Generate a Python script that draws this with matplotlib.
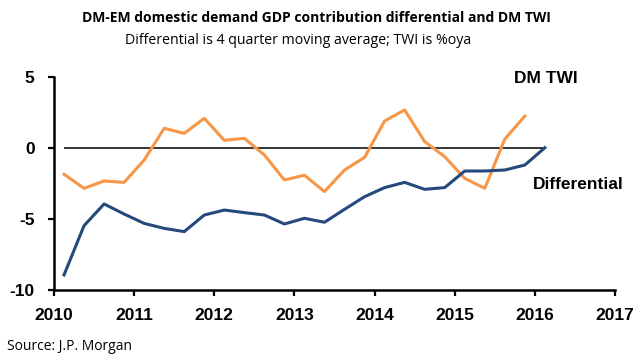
"""
DM-EM domestic demand GDP contribution differential vs DM TWI
"""

import numpy as np
import matplotlib
matplotlib.use("Agg")
import matplotlib.pyplot as plt

plt.rcParams["axes.unicode_minus"] = False

# 0. Data (quarterly)
START = 2010.125
STEP = 0.25

differential = [-8.94, -5.47, -3.94, -4.65, -5.31, -5.66, -5.89, -4.72, -4.37,
                -4.55, -4.72, -5.35, -4.95, -5.23, -4.32, -3.43, -2.79, -2.42,
                -2.91, -2.79, -1.62, -1.62, -1.55, -1.20, 0.02]
dm_twi = [-1.85, -2.84, -2.32, -2.42, -0.85, 1.39, 1.03, 2.09, 0.54, 0.68,
          -0.49, -2.25, -1.92, -3.07, -1.55, -0.66, 1.90, 2.68, 0.45, -0.61,
          -2.14, -2.84, 0.63, 2.25]

x_diff = START + STEP * np.arange(len(differential))
x_twi = START + STEP * np.arange(len(dm_twi))

years = list(range(2010, 2018))
y_ticks = [5, 0, -5, -10]

ORANGE = "#F79646"
NAVY = "#24497A"

TICK_FONT = ["Liberation Sans", "DejaVu Sans"]
NOTE_FONT = ["Open Sans", "DejaVu Sans"]

# 1. Figure
fig = plt.figure(figsize=(6.44, 3.63), dpi=100)
ax = fig.add_axes([54 / 644, 1 - 290 / 363, (615 - 54) / 644, (290 - 77) / 363])

ax.hlines(0, x_diff[0], x_diff[-1], color="black", lw=1.1, zorder=1)
ax.plot(x_twi, dm_twi, color=ORANGE, lw=2.2, zorder=2)
ax.plot(x_diff, differential, color=NAVY, lw=2.2, zorder=3)

ax.set_xlim(2010, 2017)
ax.set_ylim(-10, 5)
ax.set_xticks(years)
ax.set_yticks(y_ticks)
ax.set_xticklabels([str(y) for y in years])
ax.set_yticklabels([str(v) for v in y_ticks])

for side in ["top", "right"]:
    ax.spines[side].set_visible(False)
for side in ["left", "bottom"]:
    ax.spines[side].set_linewidth(1.8)

ax.tick_params(axis="both", direction="out", width=1.6, length=4)
ax.tick_params(axis="x", pad=9)
ax.tick_params(axis="y", pad=10)
for lab in ax.get_xticklabels() + ax.get_yticklabels():
    lab.set_family(TICK_FONT)
    lab.set_fontweight("bold")
    lab.set_fontsize(12.5)

# series labels
ax.text(2016.14, 4.86, "DM TWI", family=TICK_FONT, fontweight="bold",
        fontsize=12.5, ha="center", va="center")
ax.text(2015.98, -2.57, "Differential", family=TICK_FONT, fontweight="bold",
        fontsize=12.5, ha="left", va="center")

# 2. Titles and source
fig.text(316 / 644, 1 - 18 / 363,
         "DM-EM domestic demand GDP contribution differential and DM TWI",
         family=NOTE_FONT, fontweight="bold", fontsize=10, ha="center", va="center")
fig.text(125 / 644, 1 - 40 / 363,
         "Differential is 4 quarter moving average; TWI is %oya",
         family=NOTE_FONT, fontsize=10.2, ha="left", va="center")
fig.text(7 / 644, 1 - 347 / 363, "Source: J.P. Morgan",
         family=NOTE_FONT, fontsize=10, ha="left", va="center")

plt.savefig("out.png", dpi=100)
plt.close()
